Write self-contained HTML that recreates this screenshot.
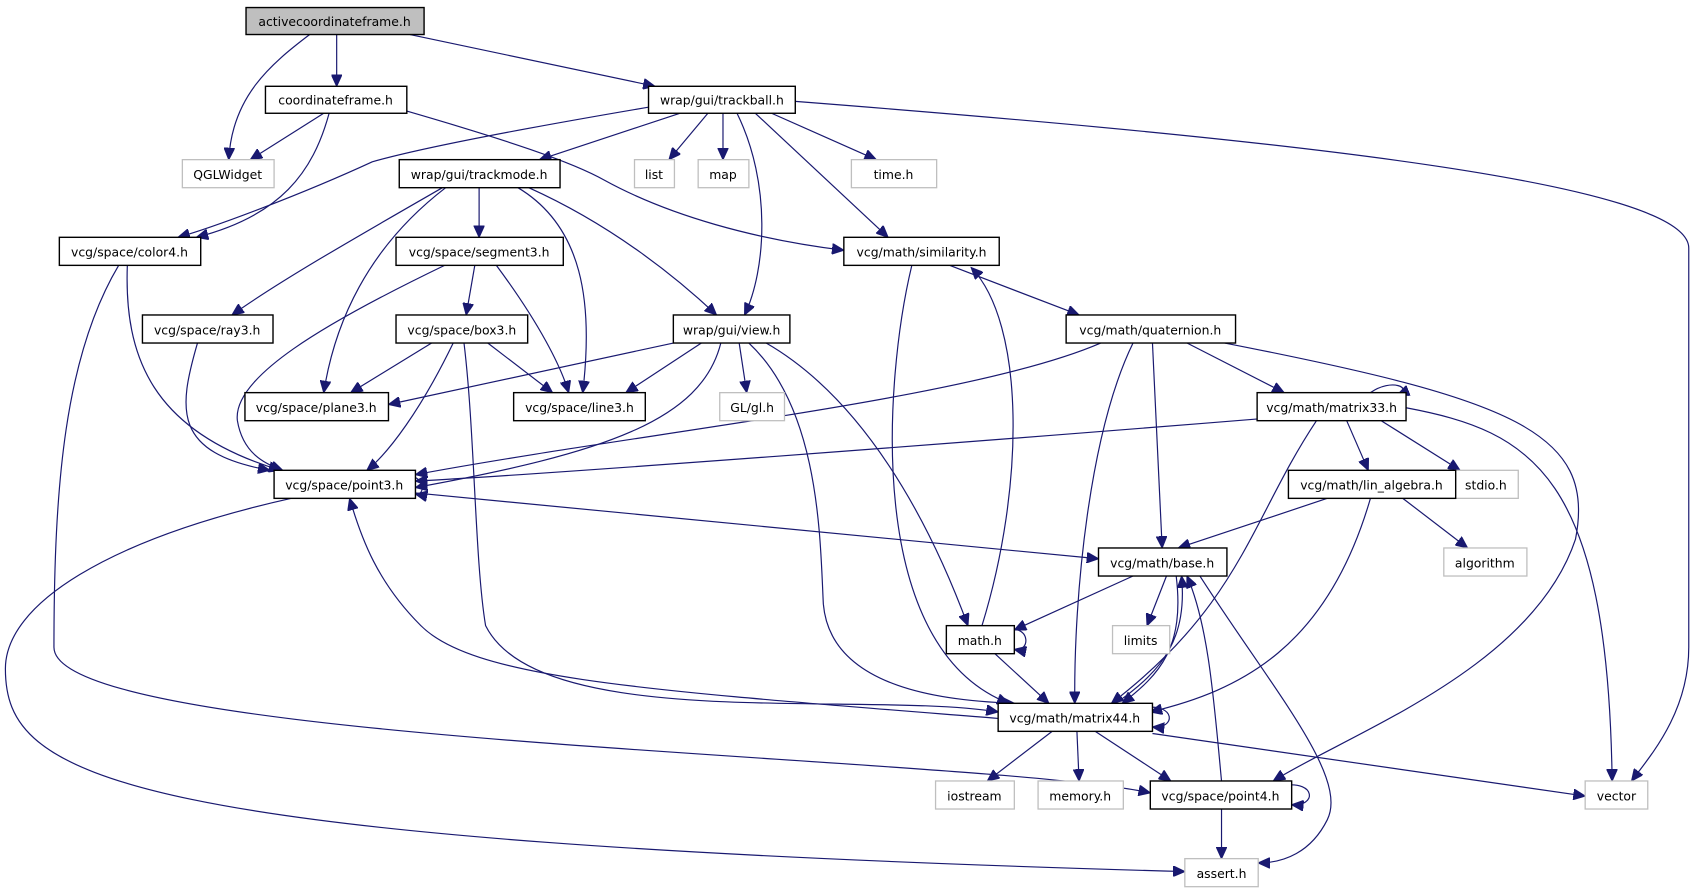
<!DOCTYPE html>
<html><head><meta charset="utf-8"><style>
html,body{margin:0;padding:0;background:#fff;}
svg{display:block;}
text{font-family:"DejaVu Sans","Liberation Sans",sans-serif;font-size:11.5px;fill:#000;text-anchor:middle;}
.n{fill:#fff;stroke:#000;stroke-width:1.3;}
.g{fill:#fff;stroke:#bfbfbf;stroke-width:1.2;}
path{fill:none;stroke:#191970;stroke-width:1.1;}
</style></head><body>
<svg width="1692" height="891" viewBox="0 0 1568 826" preserveAspectRatio="none" xmlns="http://www.w3.org/2000/svg">
<defs><marker id="a" markerUnits="userSpaceOnUse" markerWidth="12" markerHeight="10" refX="11" refY="5" orient="auto"><polygon points="0,0 11,5 0,10" fill="#191970" stroke="#191970"/></marker></defs>
<g marker-end="url(#a)">
<path d="M287,32 C250,60 215,90 212,148"/>
<path d="M312,32 L312,80"/>
<path d="M380,32 L607,80"/>
<path d="M300,105 L232,148"/>
<path d="M305,105 C290,160 260,200 182,220"/>
<path d="M377,103 C470,130 530,150 560,167 C620,200 700,222 782,232"/>
<path d="M603,99 C450,125 380,140 345,150 C280,180 200,210 165,220"/>
<path d="M630,105 L500,148"/>
<path d="M656,105 L620,148"/>
<path d="M670,105 L670,148"/>
<path d="M715,105 L812,148"/>
<path d="M683,105 C715,170 710,250 690,292"/>
<path d="M700,105 L823,220"/>
<path d="M737,94 C1200,130 1565,170 1565,230 L1565,600 C1565,660 1530,700 1512,724"/>
<path d="M410,174 C330,220 260,260 215,292"/>
<path d="M413,174 C340,230 310,300 300,364"/>
<path d="M444,174 L444,220"/>
<path d="M480,174 C540,210 550,280 540,364"/>
<path d="M490,174 C570,210 630,260 664,292"/>
<path d="M118,246 C115,330 140,400 260,436"/>
<path d="M110,246 C60,330 50,450 50,600 C50,690 900,700 1066,735"/>
<path d="M412,246 C300,300 215,350 220,390 C225,420 245,430 262,436"/>
<path d="M440,246 L432,292"/>
<path d="M460,246 C500,300 520,340 527,364"/>
<path d="M183,318 C165,380 160,420 250,436"/>
<path d="M400,318 L325,364"/>
<path d="M452,318 L512,364"/>
<path d="M420,318 C390,380 360,420 340,436"/>
<path d="M430,318 C440,400 440,520 450,580 C500,680 800,640 925,660"/>
<path d="M624,318 L360,375"/>
<path d="M650,318 L580,364"/>
<path d="M668,318 C650,390 560,420 385,452"/>
<path d="M685,318 L692,364"/>
<path d="M710,318 C800,370 860,480 897,580"/>
<path d="M694,318 C760,380 760,500 763,560 C770,640 880,650 940,652"/>
<path d="M845,246 C820,350 800,600 935,652"/>
<path d="M880,246 L1000,292"/>
<path d="M910,580 C950,450 950,300 900,248"/>
<path d="M922,606 L972,652"/>
<path d="M1020,318 C900,370 600,400 385,440"/>
<path d="M1050,318 C1010,400 995,550 996,652"/>
<path d="M1068,318 C1072,400 1075,470 1077,508"/>
<path d="M1100,318 L1190,364"/>
<path d="M1135,318 C1400,370 1480,400 1460,500 C1420,620 1250,680 1180,724"/>
<path d="M1170,388 C900,410 500,440 385,446"/>
<path d="M1220,390 C1160,480 1150,560 1030,652"/>
<path d="M1248,390 L1268,436"/>
<path d="M1280,390 L1353,436"/>
<path d="M1303,378 C1420,400 1490,440 1494,724"/>
<path d="M1230,462 L1092,508"/>
<path d="M1300,462 L1360,508"/>
<path d="M1270,462 C1230,600 1150,640 1066,660"/>
<path d="M385,457 L1018,518"/>
<path d="M270,462 C100,500 5,560 5,620 C5,720 100,780 1098,808"/>
<path d="M925,666 C600,640 440,630 390,580 C350,540 335,500 324,462"/>
<path d="M1050,534 L940,584"/>
<path d="M1081,534 L1063,580"/>
<path d="M1034,652 C1080,620 1100,590 1095,534"/>
<path d="M1090,534 C1098,600 1075,625 1040,652"/>
<path d="M1112,534 C1180,640 1250,720 1230,760 C1215,790 1190,800 1166,800"/>
<path d="M975,678 L915,724"/>
<path d="M998,678 L1000,724"/>
<path d="M1015,678 L1085,724"/>
<path d="M1068,680 L1469,738"/>
<path d="M1132,724 C1125,650 1120,580 1100,534"/>
<path d="M1132,750 L1132,796"/>
<path d="M1270,364 C1290,350 1310,360 1295,366"/>
<path d="M370,440 C395,438 395,460 385,458"/>
<path d="M935,584 C955,580 955,605 940,602"/>
<path d="M1060,656 C1090,652 1090,676 1068,674"/>
<path d="M1190,728 C1220,724 1220,748 1197,746"/>
</g>
<g>
<rect x="228" y="7" width="165" height="25" fill="#bfbfbf" stroke="#000" stroke-width="1.3"/><text x="310" y="24">activecoordinateframe.h</text>
<rect class="n" x="246" y="80" width="131" height="25"/><text x="311" y="97">coordinateframe.h</text>
<rect class="n" x="601" y="80" width="136" height="25"/><text x="669" y="97">wrap/gui/trackball.h</text>
<rect class="g" x="169" y="148" width="85" height="26"/><text x="211" y="166">QGLWidget</text>
<rect class="n" x="370" y="148" width="149" height="26"/><text x="444" y="166">wrap/gui/trackmode.h</text>
<rect class="g" x="588" y="148" width="37" height="26"/><text x="606" y="166">list</text>
<rect class="g" x="647" y="148" width="47" height="26"/><text x="670" y="166">map</text>
<rect class="g" x="789" y="148" width="79" height="26"/><text x="828" y="166">time.h</text>
<rect class="n" x="55" y="220" width="131" height="26"/><text x="120" y="238">vcg/space/color4.h</text>
<rect class="n" x="367" y="220" width="155" height="26"/><text x="444" y="238">vcg/space/segment3.h</text>
<rect class="n" x="782" y="220" width="144" height="26"/><text x="854" y="238">vcg/math/similarity.h</text>
<rect class="n" x="132" y="292" width="121" height="26"/><text x="192" y="310">vcg/space/ray3.h</text>
<rect class="n" x="367" y="292" width="122" height="26"/><text x="428" y="310">vcg/space/box3.h</text>
<rect class="n" x="624" y="292" width="108" height="26"/><text x="678" y="310">wrap/gui/view.h</text>
<rect class="n" x="988" y="292" width="157" height="26"/><text x="1066" y="310">vcg/math/quaternion.h</text>
<rect class="n" x="227" y="364" width="133" height="26"/><text x="293" y="382">vcg/space/plane3.h</text>
<rect class="n" x="476" y="364" width="122" height="26"/><text x="537" y="382">vcg/space/line3.h</text>
<rect class="g" x="667" y="364" width="60" height="26"/><text x="697" y="382">GL/gl.h</text>
<rect class="n" x="1165" y="364" width="138" height="26"/><text x="1234" y="382">vcg/math/matrix33.h</text>
<rect class="n" x="254" y="436" width="131" height="26"/><text x="319" y="454">vcg/space/point3.h</text>
<rect class="g" x="1348" y="436" width="59" height="26"/><text x="1377" y="454">stdio.h</text>
<rect class="n" x="1194" y="436" width="155" height="26"/><text x="1271" y="454">vcg/math/lin_algebra.h</text>
<rect class="n" x="1018" y="508" width="119" height="26"/><text x="1077" y="526">vcg/math/base.h</text>
<rect class="g" x="1338" y="508" width="77" height="26"/><text x="1376" y="526">algorithm</text>
<rect class="n" x="877" y="580" width="63" height="26"/><text x="908" y="598">math.h</text>
<rect class="g" x="1031" y="580" width="53" height="26"/><text x="1057" y="598">limits</text>
<rect class="n" x="925" y="652" width="143" height="26"/><text x="996" y="670">vcg/math/matrix44.h</text>
<rect class="g" x="867" y="724" width="73" height="26"/><text x="903" y="742">iostream</text>
<rect class="g" x="962" y="724" width="79" height="26"/><text x="1001" y="742">memory.h</text>
<rect class="n" x="1066" y="724" width="131" height="26"/><text x="1131" y="742">vcg/space/point4.h</text>
<rect class="g" x="1469" y="724" width="58" height="26"/><text x="1498" y="742">vector</text>
<rect class="g" x="1098" y="796" width="68" height="26"/><text x="1132" y="814">assert.h</text>
</g>
</svg>
</body></html>
